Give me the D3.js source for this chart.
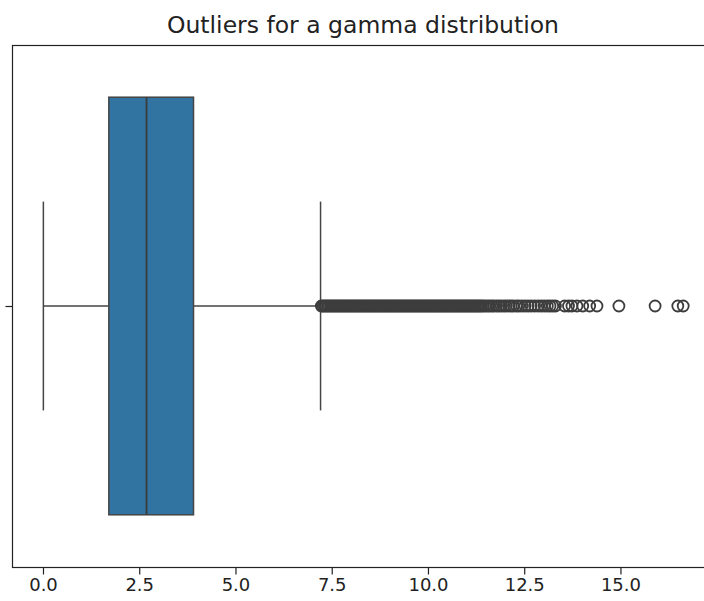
<html>
<meta charset="utf-8">
<style>
body { margin: 0; background: #fff; }
text { font-family: "DejaVu Sans", sans-serif; fill: #222; }
.title { font-size: 23.5px; }
</style>
<body>
<script src="https://cdn.jsdelivr.net/npm/d3@7"></script>
<script>

// box summary
var stats = { min: 0.01, q1: 1.71, median: 2.69, q3: 3.91, max: 7.21 };

// outliers past the upper whisker (the dense run first, then the sparse tail)
var outliers = [
  7.23, 7.27, 7.31, 7.35, 7.39, 7.43, 7.47, 7.51, 7.55, 7.59, 7.63, 7.67, 7.71, 7.75,
  7.79, 7.83, 7.87, 7.91, 7.95, 7.99, 8.03, 8.07, 8.11, 8.15, 8.19, 8.23, 8.27, 8.31,
  8.35, 8.39, 8.43, 8.47, 8.51, 8.55, 8.59, 8.63, 8.67, 8.71, 8.75, 8.79, 8.83, 8.87,
  8.91, 8.95, 8.99, 9.03, 9.07, 9.11, 9.15, 9.19, 9.23, 9.27, 9.31, 9.35, 9.39, 9.43,
  9.47, 9.51, 9.55, 9.59, 9.63, 9.67, 9.71, 9.75, 9.79, 9.83, 9.87, 9.91, 9.95, 9.99,
  10.03, 10.07, 10.11, 10.15, 10.19, 10.23, 10.27, 10.31, 10.35, 10.39, 10.43, 10.47,
  10.51, 10.55, 10.59, 10.63, 10.67, 10.71, 10.75, 10.79, 10.83, 10.87, 10.91, 10.95,
  10.99, 11.03, 11.07, 11.11, 11.15, 11.19, 11.23, 11.27, 11.31, 11.35, 11.39,
  11.44, 11.49, 11.55, 11.6, 11.66, 11.71, 11.78, 11.84, 11.9, 11.97, 12.03, 12.1,
  12.16, 12.22, 12.3, 12.36, 12.44, 12.52, 12.6, 12.68, 12.77, 12.86, 12.94, 13.02,
  13.1, 13.17, 13.24, 13.31, 13.55, 13.65, 13.74, 13.87, 14.02, 14.2, 14.39,
  14.96, 15.9, 16.49, 16.63
];

var xTicks = [0, 2.5, 5, 7.5, 10, 12.5, 15];
var title = "Outliers for a gamma distribution";

var width = 704, height = 601;
var frame = { left: 12, right: 714, top: 45, bottom: 567 };

var svg = d3.select("body").append("svg")
    .attr("width", width)
    .attr("height", height);

var x = d3.scaleLinear()
    .domain([-0.805, 17.43])
    .range([frame.left, frame.right]);

var y = d3.scaleLinear()
    .domain([-0.5, 0.5])
    .range([frame.bottom, frame.top]);

var lineColor = "#454545";
var g = svg.append("g");

// whiskers
g.append("line")
    .attr("x1", x(stats.min)).attr("x2", x(stats.q1))
    .attr("y1", y(0)).attr("y2", y(0))
    .attr("stroke", lineColor).attr("stroke-width", 1.5);
g.append("line")
    .attr("x1", x(stats.q3)).attr("x2", x(stats.max))
    .attr("y1", y(0)).attr("y2", y(0))
    .attr("stroke", lineColor).attr("stroke-width", 1.5);

// caps
[stats.min, stats.max].forEach(function(v) {
  g.append("line")
      .attr("x1", x(v)).attr("x2", x(v))
      .attr("y1", y(-0.2)).attr("y2", y(0.2))
      .attr("stroke", lineColor).attr("stroke-width", 1.5);
});

// box
g.append("rect")
    .attr("x", x(stats.q1))
    .attr("y", y(0.4))
    .attr("width", x(stats.q3) - x(stats.q1))
    .attr("height", y(-0.4) - y(0.4))
    .attr("fill", "#3274a1")
    .attr("stroke", lineColor)
    .attr("stroke-width", 1.5);

// median
g.append("line")
    .attr("x1", x(stats.median)).attr("x2", x(stats.median))
    .attr("y1", y(0.4)).attr("y2", y(-0.4))
    .attr("stroke", "#3a3a3a").attr("stroke-width", 1.8);

// fliers
g.selectAll("circle.flier")
    .data(outliers)
  .enter().append("circle")
    .attr("class", "flier")
    .attr("cx", function(d) { return x(d); })
    .attr("cy", y(0))
    .attr("r", 5.5)
    .attr("fill", "none")
    .attr("stroke", "#3d3d3d")
    .attr("stroke-width", 1.8);

// frame
svg.append("rect")
    .attr("x", frame.left + 0.5)
    .attr("y", frame.top + 0.5)
    .attr("width", frame.right - frame.left)
    .attr("height", frame.bottom - frame.top)
    .attr("fill", "none")
    .attr("stroke", "#222")
    .attr("stroke-width", 1.2);

// x axis
var xAxis = d3.axisBottom(x)
    .tickValues(xTicks)
    .tickFormat(d3.format(".1f"))
    .tickSize(7)
    .tickPadding(4);

var ax = svg.append("g")
    .attr("transform", "translate(0," + (frame.bottom + 0.5) + ")")
    .call(xAxis);
ax.select(".domain").remove();
ax.selectAll(".tick line").attr("stroke", "#222").attr("stroke-width", 1.2);
ax.selectAll(".tick text")
    .attr("fill", "#222")
    .attr("font-family", "DejaVu Sans")
    .attr("font-size", 18);

// y axis: one unlabelled tick
var yAxis = d3.axisLeft(y).tickValues([0]).tickFormat("").tickSize(7);
var ay = svg.append("g")
    .attr("transform", "translate(" + (frame.left + 0.5) + ",0)")
    .call(yAxis);
ay.select(".domain").remove();
ay.selectAll(".tick line").attr("stroke", "#222").attr("stroke-width", 1.2);

// title
svg.append("text")
    .attr("class", "title")
    .attr("x", (frame.left + frame.right) / 2)
    .attr("y", 33)
    .attr("text-anchor", "middle")
    .text(title);

</script>
</body>
</html>
